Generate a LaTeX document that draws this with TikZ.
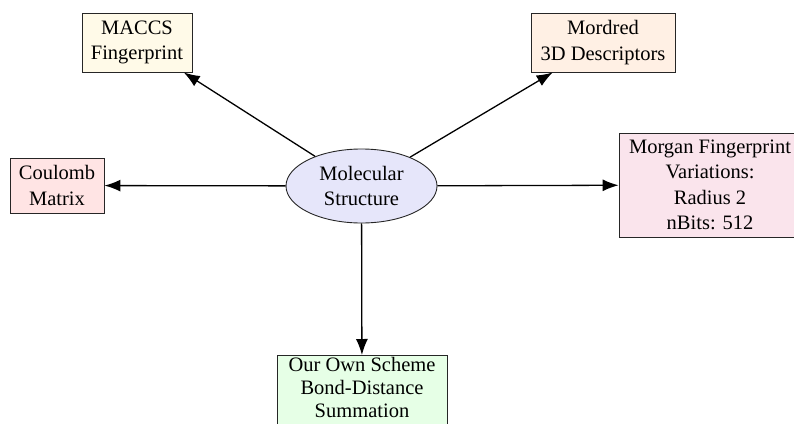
\documentclass[tikz,border=0pt]{standalone}
\usepackage{fontspec}
\setmainfont{Liberation Serif}
\usetikzlibrary{arrows.meta,shapes.geometric}
\definecolor{cmaccs}{RGB}{255,250,232}
\definecolor{cmordred}{RGB}{255,240,228}
\definecolor{ccoul}{RGB}{255,228,228}
\definecolor{cmorgan}{RGB}{250,228,236}
\definecolor{cmol}{RGB}{230,230,250}
\definecolor{cown}{RGB}{230,255,230}
\begin{document}
\begin{tikzpicture}[x=1pt,y=-1pt,
  box/.style={draw=black!85,line width=0.9pt,rectangle,align=center,inner sep=0pt,
    font=\fontsize{20.5}{25.5}\selectfont},
  molstyle/.style={draw=black!85,line width=0.9pt,ellipse,align=center,inner sep=0pt,
    fill=cmol,minimum width=151pt,minimum height=74pt,font=\fontsize{20.5}{25.5}\selectfont},
  conn/.style={line width=1.3pt,-{Latex[length=16pt,width=12pt]}}]
\useasboundingbox (0,0) rectangle (794,423);
\clip (0,0) rectangle (794,423);
\node[molstyle] (mol) at (361.5,186) {Molecular\\Structure};
\node[box,fill=cmaccs,minimum width=110pt,minimum height=59pt] (maccs) at (137,42.5) {MACCS\\Fingerprint};
\node[box,fill=cmordred,minimum width=144pt,minimum height=59pt] (mordred) at (603,42.5) {Mordred\\3D Descriptors};
\node[box,fill=ccoul,minimum width=94pt,minimum height=55pt] (coul) at (57,185.5) {Coulomb\\Matrix};
\node[box,fill=cmorgan,minimum width=182pt,minimum height=104pt] (morgan) at (710,185) {Morgan Fingerprint\\Variations:\\Radius 2\\nBits: 512};
\node[box,fill=cown,minimum width=170pt,inner ysep=1.5pt,anchor=north,
  font=\fontsize{20.5}{23}\selectfont] (own) at (362,355) {Our Own Scheme\\Bond-Distance\\Summation\strut};
\draw[conn] (mol) -- (maccs);
\draw[conn] (mol) -- (mordred);
\draw[conn] (mol) -- (coul);
\draw[conn] (mol) -- (morgan);
\draw[conn] (mol) -- (own);
\end{tikzpicture}
\end{document}
